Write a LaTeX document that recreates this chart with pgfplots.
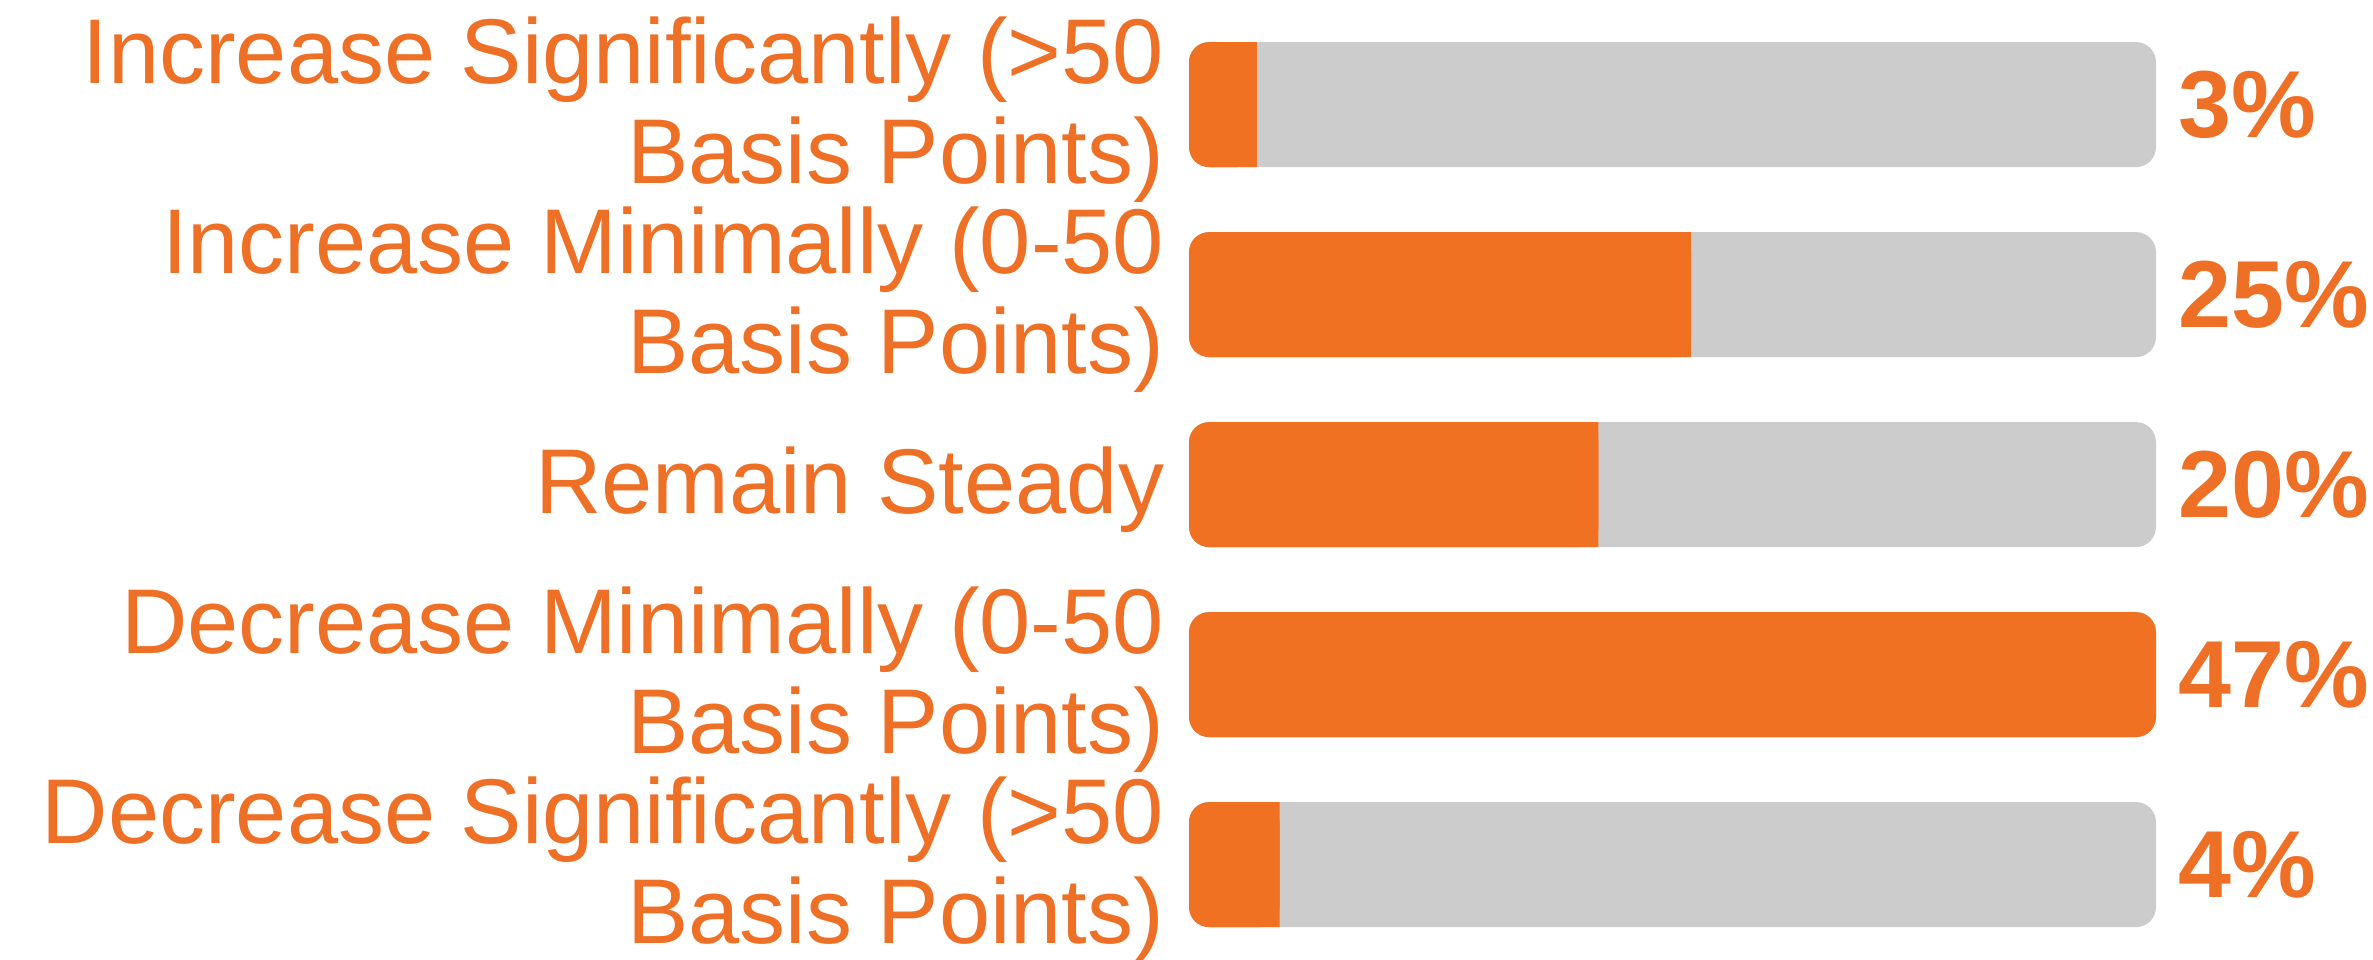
\documentclass[border=0pt]{standalone}
\usepackage{pgfplots}
\pgfplotsset{compat=1.18}
\usepackage{pgfplotstable}
\usepackage{fontspec}
\setmainfont{Liberation Sans}
\definecolor{barorange}{RGB}{240,113,34}
\definecolor{txtorange}{RGB}{237,112,38}
\definecolor{trackgray}{RGB}{204,204,204}

% v = bar length, lab = printed percentage
\pgfplotstableread{
y v lab
0 3.3 3
1 24.4 25
2 19.9 20
3 47 47
4 4.4 4
}\data

\pgfplotsset{
  base/.style={
    scale only axis,
    width=241.75pt, height=237.5pt,
    xmin=0, xmax=47, ymin=-0.5, ymax=4.5,
    y dir=reverse,
    clip=false,
    axis line style={draw=none},
    major tick length=0pt,
    xtick=\empty,
    /pgf/number format/assume math mode=true,
  },
}

\begin{document}
\begin{tikzpicture}[font=\fontsize{23}{25}\selectfont]
% tracks + labels
\begin{axis}[base, name=A,
  ytick={0,1,2,3,4},
  yticklabels={{Increase Significantly (>50\\Basis Points)},
               {Increase Minimally (0-50\\Basis Points)},
               {Remain Steady},
               {Decrease Minimally (0-50\\Basis Points)},
               {Decrease Significantly (>50\\Basis Points)}},
  yticklabel style={align=right, anchor=east, inner sep=0pt, xshift=-6pt, yshift=-1.3pt,
    text=txtorange, font=\fontsize{23}{25}\selectfont},
]
\addplot[xbar, bar width=31.25pt, bar shift=0pt, fill=trackgray, draw=none, rounded corners=5pt,
  point meta=explicit,
  nodes near coords={\pgfmathprintnumber[fixed,precision=0]{\pgfplotspointmeta}\%},
  nodes near coords style={anchor=west, inner sep=0pt, xshift=5.5pt, text=txtorange,
    font=\fontsize{23.8}{25}\selectfont\bfseries}]
  table[x expr=47, y=y, meta=lab] {\data};
\end{axis}
% orange rounded bars
\begin{axis}[base, hide axis]
\addplot[xbar, bar width=31.25pt, bar shift=0pt, fill=barorange, draw=none, rounded corners=5pt]
  table[x=v, y=y] {\data};
\end{axis}
% square right ends
\begin{axis}[base, hide axis, xbar stacked, bar width=31.25pt, bar shift=0pt]
\addplot[fill=none, draw=none] table[x expr=1, y=y] {\data};
\addplot[fill=barorange, draw=none]
  table[x expr={(\thisrow{v}>46) ? (\thisrow{v}-2) : (\thisrow{v}-1)}, y=y] {\data};
\end{axis}
\pgfresetboundingbox
\path[use as bounding box] ([xshift=-297.25pt, yshift=2.4pt]A.north west) rectangle ([xshift=54.25pt]A.south east);
\end{tikzpicture}
\end{document}
